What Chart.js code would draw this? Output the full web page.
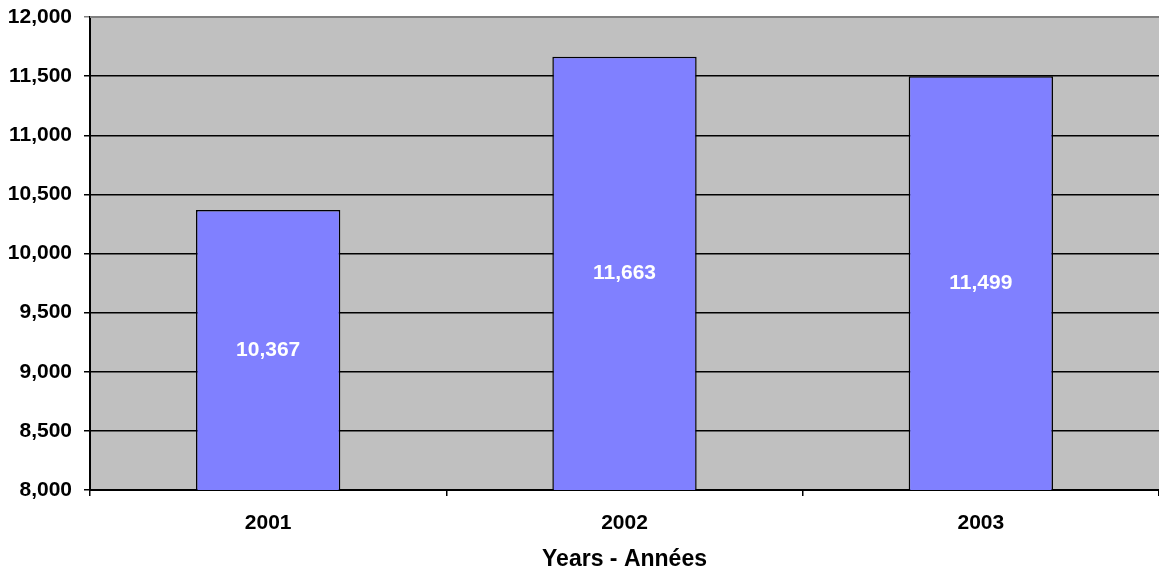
<!DOCTYPE html>
<html>
<head>
<meta charset="utf-8">
<script src="https://cdn.jsdelivr.net/npm/chart.js@4"></script>
<style>
  html, body { margin: 0; padding: 0; background: #fff; }
  #wrap { width: 1159px; height: 573px; }
</style>
</head>
<body>
<div id="wrap"><canvas id="bars" width="1159" height="573"></canvas></div>
<script>
// yearly totals
const years = ["2001", "2002", "2003"];
const totals = [10367, 11663, 11499];
const yMin = 8000;
const yMax = 12000;
const yStep = 500;
const xTitle = "Years - Années";

const FONT = "'Liberation Sans', Arial, sans-serif";

// grey plot area + grey top edge
const plotBg = {
    id: "plotBg",
    beforeDraw(chart){
        const a = chart.chartArea, c = chart.ctx;
        c.save();
        c.fillStyle = "#c0c0c0";
        c.fillRect(a.left, a.top, a.right - a.left, a.bottom - a.top);
        c.restore();
    },
    afterDraw(chart){
        const a = chart.chartArea, c = chart.ctx;
        c.save();
        c.strokeStyle = "#808080";
        c.lineWidth = 2;
        c.beginPath();
        c.moveTo(a.left, a.top);
        c.lineTo(a.right, a.top);
        c.stroke();
        c.restore();
    }
};

// white value in the middle of each bar
const barValues = {
    id: "barValues",
    afterDatasetsDraw(chart){
        const c = chart.ctx;
        const meta = chart.getDatasetMeta(0);
        const yScale = chart.scales.y;
        const bottom = yScale.getPixelForValue(yMin);
        c.save();
        c.fillStyle = "#fff";
        c.font = "bold 21px " + FONT;
        c.textAlign = "center";
        c.textBaseline = "middle";
        meta.data.forEach((bar, i) => {
            const v = chart.data.datasets[0].data[i];
            const top = yScale.getPixelForValue(v);
            c.fillText(v.toLocaleString("en-US"), bar.x, (top + bottom) / 2);
        });
        c.restore();
    }
};

new Chart(document.getElementById("bars"), {
    type: "bar",
    data: {
        labels: years,
        datasets: [{
            data: totals,
            backgroundColor: "#8080ff",
            borderColor: "#000",
            borderWidth: 1.5,
            borderSkipped: false,
            categoryPercentage: 1,
            barPercentage: 0.405
        }]
    },
    options: {
        responsive: false,
        animation: false,
        layout: { padding: { top: 17, right: 0, left: 0, bottom: 0 } },
        plugins: {
            legend: { display: false },
            tooltip: { enabled: false }
        },
        scales: {
            x: {
                afterFit(axis){ axis.height = 83; },
                grid: {
                    offset: true,
                    drawOnChartArea: false,
                    tickLength: 6,
                    color: "#000",
                    lineWidth: 1.5
                },
                border: { color: "#000", width: 2 },
                ticks: {
                    color: "#000",
                    padding: 15,
                    font: { family: FONT, size: 21, weight: "bold" }
                },
                title: {
                    display: true,
                    text: xTitle,
                    color: "#000",
                    padding: { top: 0, bottom: 0 },
                    font: { family: FONT, size: 23, weight: "bold" }
                }
            },
            y: {
                min: yMin,
                max: yMax,
                afterFit(axis){
                    axis.width = 90;
                    // let the top label hang above the plot
                    axis.paddingTop = 0;
                    axis.paddingBottom = 0;
                },
                grid: {
                    color: (ctx) => ctx.tick && ctx.tick.value === yMax ? "#808080" : "#000",
                    lineWidth: 1.5,
                    tickLength: 6
                },
                border: { color: "#000", width: 2 },
                ticks: {
                    stepSize: yStep,
                    color: "#000",
                    padding: 12,
                    font: { family: FONT, size: 21, weight: "bold" },
                    callback: (v) => v.toLocaleString("en-US")
                }
            }
        }
    },
    plugins: [plotBg, barValues]
});
</script>
</body>
</html>
